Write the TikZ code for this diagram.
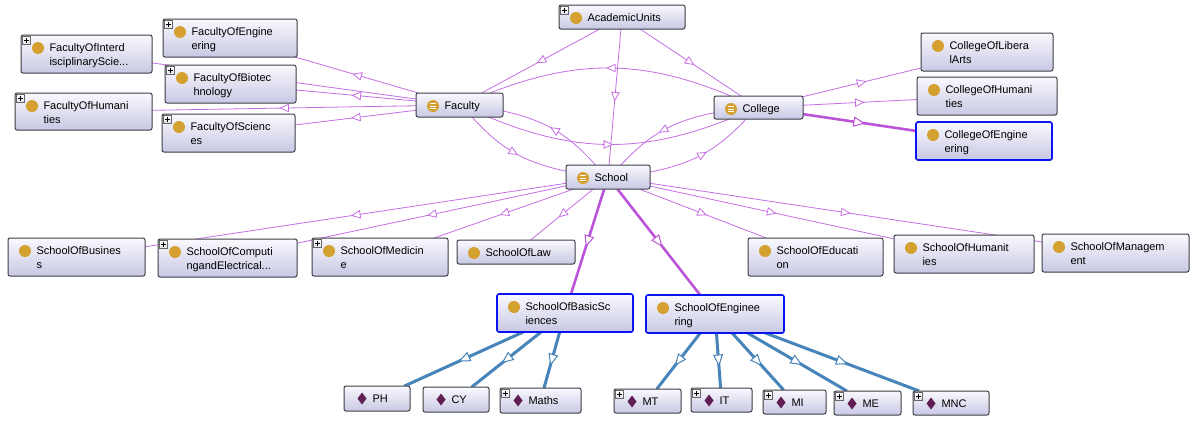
\documentclass[tikz,border=0pt]{standalone}
\usepackage{fontspec}
\setmainfont{Liberation Sans}
\usetikzlibrary{arrows.meta,decorations.markings,backgrounds}
\definecolor{edgep}{RGB}{198,110,228}
\definecolor{edgepk}{RGB}{188,84,218}
\definecolor{edgeb}{RGB}{70,132,186}
\definecolor{boxtop}{RGB}{249,249,254}
\definecolor{boxbot}{RGB}{200,200,228}
\definecolor{boxborder}{RGB}{62,62,70}
\definecolor{selblue}{RGB}{10,20,240}
\definecolor{gold}{RGB}{212,160,48}
\definecolor{indiv}{RGB}{96,30,84}
\definecolor{plusfill}{RGB}{222,226,232}
\tikzset{
  cls/.style={rectangle, rounded corners=2pt, draw=boxborder, line width=1pt,
    top color=boxtop, bottom color=boxbot, inner sep=0pt, outer sep=0pt, anchor=north west},
  sel/.style={cls, draw=selblue, line width=1.6pt},
  lbl/.style={anchor=base west, inner sep=0pt, outer sep=0pt, font=\fontsize{11}{14}\selectfont, text=black},
  plusbox/.style={draw=black!60, line width=0.5pt, top color=white, bottom color=plusfill},
  isa/.style={draw=edgep, line width=0.8pt, postaction={decorate},
    decoration={markings, mark=at position 0.5 with {\arrow[xshift=4.5pt]{Triangle[length=9.5pt,width=8.5pt,fill=white,line width=0.8pt]}}}},
  isak/.style={draw=edgepk, line width=2.6pt, postaction={decorate},
    decoration={markings, mark=at position 0.5 with {\arrow[xshift=6pt]{Triangle[length=12pt,width=10pt,fill=white,line width=1pt]}}}},
  isab/.style={draw=edgeb, line width=3pt, postaction={decorate},
    decoration={markings, mark=at position 0.5 with {\arrow[xshift=6pt]{Triangle[length=12pt,width=10pt,fill=white,line width=1pt]}}}},
}
\newcommand\cbox[8]{%
  \pgfmathsetmacro\bw{#4-#2}%
  \pgfmathsetmacro\bh{#5-#3}%
  \node[#6, minimum width=\bw pt, minimum height=\bh pt] (#1) at (#2,#3) {};%
  #7{#1}#8{#1}%
}
\newcommand\icirc[1]{\fill[gold] ([xshift=17pt,yshift=-13pt]#1.north west) circle[radius=6pt];}
\newcommand\ieq[1]{\icirc{#1}%
  \foreach \dy in {-10.5,-13,-15.5}{\draw[white, line width=0.9pt] ([xshift=14pt,yshift=\dy pt]#1.north west) -- ++(6pt,0pt);}}
\newcommand\idia[1]{\fill[indiv] ([xshift=18pt,yshift=-6.5pt]#1.north west) -- ++(4.5pt,-6pt) -- ++(-4.5pt,-6pt) -- ++(-4.5pt,6pt) -- cycle;}
\newcommand\iplus[1]{%
  \draw[plusbox] ([xshift=1.5pt,yshift=-1.5pt]#1.north west) rectangle ++(8pt,-8pt);
  \draw[black, line width=0.7pt] ([xshift=3pt,yshift=-5.5pt]#1.north west) -- ++(5pt,0pt)
     ([xshift=5.5pt,yshift=-3pt]#1.north west) -- ++(0pt,-5pt);}
\newcommand\noplus[1]{}
\newcommand\tone[2]{\node[lbl] (#1-t) at ([xshift=28.5pt,yshift=-16.5pt]#1.north west) {#2};}
\newcommand\ttwo[3]{\node[lbl] (#1-t) at ([xshift=28.5pt,yshift=-16.5pt]#1.north west) {#2};
  \node[lbl] (#1-u) at ([xshift=28.5pt,yshift=-30.5pt]#1.north west) {#3};}

\begin{document}
\begin{tikzpicture}[x=1pt,y=-1pt]
\useasboundingbox (0,0) rectangle (1197,434);
% top level
\cbox{au}{559}{5}{685}{29}{cls}{\icirc}{\iplus}\tone{au}{AcademicUnits}
\cbox{fac}{416}{93}{503}{117}{cls}{\ieq}{\noplus}\tone{fac}{Faculty}
\cbox{col}{714}{96}{803}{119}{cls}{\ieq}{\noplus}\tone{col}{College}
\cbox{sch}{566}{165}{650}{189}{cls}{\ieq}{\noplus}\tone{sch}{School}
% faculties
\cbox{foeng}{163}{19}{297}{57}{cls}{\icirc}{\iplus}\ttwo{foeng}{FacultyOfEngine}{ering}
\cbox{foint}{21}{35}{152}{73}{cls}{\icirc}{\iplus}\ttwo{foint}{FacultyOfInterd}{isciplinaryScie...}
\cbox{fobio}{165}{65}{296}{103}{cls}{\icirc}{\iplus}\ttwo{fobio}{FacultyOfBiotec}{hnology}
\cbox{fohum}{15}{93}{152}{130}{cls}{\icirc}{\iplus}\ttwo{fohum}{FacultyOfHumani}{ties}
\cbox{fosci}{162}{114}{295}{152}{cls}{\icirc}{\iplus}\ttwo{fosci}{FacultyOfScienc}{es}
% colleges
\cbox{cola}{921}{33}{1053}{71}{cls}{\icirc}{\noplus}\ttwo{cola}{CollegeOfLibera}{lArts}
\cbox{cohum}{917}{77}{1057}{115}{cls}{\icirc}{\noplus}\ttwo{cohum}{CollegeOfHumani}{ties}
\cbox{coeng}{916}{122}{1052}{160}{sel}{\icirc}{\noplus}\ttwo{coeng}{CollegeOfEngine}{ering}
% schools
\cbox{sobus}{8}{238}{145}{276}{cls}{\icirc}{\noplus}\ttwo{sobus}{SchoolOfBusines}{s}
\cbox{socomp}{158}{239}{297}{277}{cls}{\icirc}{\iplus}\ttwo{socomp}{SchoolOfComputi}{ngandElectrical...}
\cbox{somed}{312}{238}{448}{276}{cls}{\icirc}{\iplus}\ttwo{somed}{SchoolOfMedicin}{e}
\cbox{solaw}{457}{240}{575}{264}{cls}{\icirc}{\noplus}\tone{solaw}{SchoolOfLaw}
\cbox{soedu}{748}{238}{883}{276}{cls}{\icirc}{\noplus}\ttwo{soedu}{SchoolOfEducati}{on}
\cbox{sohum}{894}{235}{1034}{273}{cls}{\icirc}{\noplus}\ttwo{sohum}{SchoolOfHumanit}{ies}
\cbox{soman}{1042}{234}{1189}{272}{cls}{\icirc}{\noplus}\ttwo{soman}{SchoolOfManagem}{ent}
\cbox{sobs}{497}{294}{633}{332}{sel}{\icirc}{\noplus}\ttwo{sobs}{SchoolOfBasicSc}{iences}
\cbox{soeng}{646}{295}{784}{333}{sel}{\icirc}{\noplus}\ttwo{soeng}{SchoolOfEnginee}{ring}
% individuals
\cbox{ph}{344}{386}{410}{411}{cls}{\idia}{\noplus}\tone{ph}{PH}
\cbox{cy}{423}{387}{489}{412}{cls}{\idia}{\noplus}\tone{cy}{CY}
\cbox{maths}{500}{388}{581}{413}{cls}{\idia}{\iplus}\tone{maths}{Maths}
\cbox{mt}{614}{389}{681}{413}{cls}{\idia}{\iplus}\tone{mt}{MT}
\cbox{it}{691}{388}{752}{412}{cls}{\idia}{\iplus}\tone{it}{IT}
\cbox{mi}{763}{390}{826}{414}{cls}{\idia}{\iplus}\tone{mi}{MI}
\cbox{me}{834}{391}{901}{415}{cls}{\idia}{\iplus}\tone{me}{ME}
\cbox{mnc}{913}{391}{989}{415}{cls}{\idia}{\iplus}\tone{mnc}{MNC}

\begin{scope}[on background layer]
\fill[white] (0,0) rectangle (1197,434);
% academic units
\draw[isa] (au) -- (fac);
\draw[isa] (au) -- (col);
\draw[isa] (au) -- (sch);
% mutual
\draw[isa] (col) to[bend right=22] (fac);
\draw[isa] (fac) to[bend right=22] (col);
\draw[isa] (fac) to[bend right=18] (sch);
\draw[isa] (sch) to[bend right=18] (fac);
\draw[isa] (col) to[bend right=18] (sch);
\draw[isa] (sch) to[bend right=18] (col);
% faculty children
\draw[isa] (fac) -- (foeng);
\draw[isa] (fac) -- (foint);
\draw[isa] (fac) -- (fobio);
\draw[isa] (fac) -- (fohum);
\draw[isa] (fac) -- (fosci);
% college children
\draw[isa] (col) -- (cola);
\draw[isa] (col) -- (cohum);
% school children
\draw[isa] (sch) -- (sobus);
\draw[isa] (sch) -- (socomp);
\draw[isa] (sch) -- (somed);
\draw[isa] (sch) -- (solaw);
\draw[isa] (sch) -- (soedu);
\draw[isa] (sch) -- (sohum);
\draw[isa] (sch) -- (soman);
% thick
\draw[isak] (col) -- (coeng);
\draw[isak] (sch) -- (sobs);
\draw[isak] (sch) -- (soeng);
% blue
\draw[isab] (sobs) -- (ph);
\draw[isab] (sobs) -- (cy);
\draw[isab] (sobs) -- (maths);
\draw[isab] (soeng) -- (mt);
\draw[isab] (soeng) -- (it);
\draw[isab] (soeng) -- (mi);
\draw[isab] (soeng) -- (me);
\draw[isab] (soeng) -- (mnc);
\end{scope}
\end{tikzpicture}
\end{document}
